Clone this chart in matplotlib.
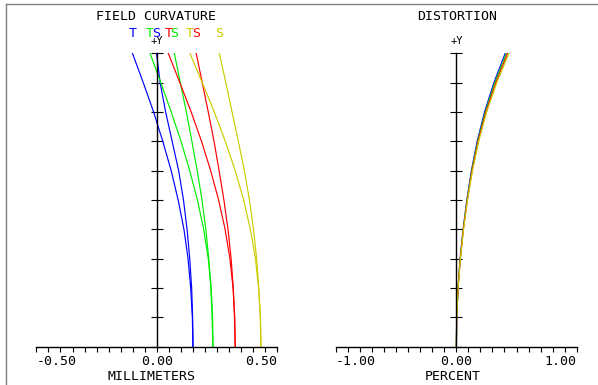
import numpy as np
import matplotlib
matplotlib.use("Agg")
import matplotlib.pyplot as plt
from matplotlib.lines import Line2D

# relative field height (0 = axis, 1 = full +Y field)
field = [0.0, 0.1, 0.2, 0.3, 0.4, 0.5, 0.6, 0.7, 0.8, 0.9, 1.0]

# field curvature in mm, tangential (T) and sagittal (S) per wavelength
blue_t = [0.150, 0.148, 0.141, 0.130, 0.113, 0.089, 0.060, 0.025, -0.013, -0.056, -0.101]
blue_s = [0.151, 0.149, 0.145, 0.137, 0.126, 0.111, 0.091, 0.064, 0.037, 0.014, -0.001]
green_t = [0.234, 0.232, 0.226, 0.214, 0.195, 0.169, 0.137, 0.101, 0.060, 0.017, -0.028]
green_s = [0.233, 0.230, 0.225, 0.216, 0.204, 0.188, 0.168, 0.146, 0.123, 0.098, 0.073]
red_t = [0.326, 0.324, 0.317, 0.304, 0.284, 0.257, 0.224, 0.186, 0.143, 0.096, 0.048]
red_s = [0.326, 0.323, 0.318, 0.309, 0.296, 0.279, 0.259, 0.238, 0.214, 0.189, 0.164]
yellow_t = [0.433, 0.431, 0.423, 0.410, 0.389, 0.361, 0.326, 0.285, 0.239, 0.189, 0.138]
yellow_s = [0.433, 0.430, 0.424, 0.415, 0.402, 0.385, 0.364, 0.339, 0.313, 0.287, 0.260]

# distortion in percent per wavelength
dist_blue = [0.0, 0.003, 0.014, 0.031, 0.056, 0.087, 0.125, 0.173, 0.234, 0.312, 0.406]
dist_green = [0.0, 0.003, 0.014, 0.032, 0.057, 0.089, 0.128, 0.177, 0.240, 0.320, 0.416]
dist_red = [0.0, 0.003, 0.014, 0.033, 0.058, 0.091, 0.131, 0.181, 0.246, 0.328, 0.426]
dist_yellow = [0.0, 0.003, 0.015, 0.034, 0.060, 0.093, 0.134, 0.186, 0.252, 0.336, 0.437]

colors = ["#0000ff", "#00ee00", "#ff0000", "#cccc00"]
curv = [(blue_t, blue_s), (green_t, green_s), (red_t, red_s), (yellow_t, yellow_s)]
dist = [dist_blue, dist_green, dist_red, dist_yellow]

W, H = 598, 385
plt.rcParams["font.family"] = "DejaVu Sans Mono"

fig = plt.figure(figsize=(W / 100, H / 100), dpi=100)


def fx(x):
    return x / W


def fy(y):
    return 1 - y / H


def axes_box(x0, x1, y0=53.3, y1=346.7):
    return [fx(x0), fy(y1), fx(x1) - fx(x0), fy(y0) - fy(y1)]


def setup(ax, lim, step, labels):
    ax.set_xlim(-lim, lim)
    ax.set_ylim(0, 1)
    ax.patch.set_visible(False)
    for s in ["top", "right"]:
        ax.spines[s].set_visible(False)
    ax.spines["left"].set_position(("data", 0))
    ax.spines["left"].set_linewidth(1.0)
    ax.spines["bottom"].set_linewidth(1.0)
    ax.set_yticks(np.arange(0, 1.001, 0.1))
    ax.set_yticklabels([])
    ax.tick_params(axis="y", direction="inout", length=9, width=0.8)
    ax.set_xticks(np.arange(-lim, lim + step / 2, step))
    ax.set_xticklabels([])
    ax.tick_params(axis="x", direction="out", length=3.5, width=0.8)
    for x, txt, ha in zip([-lim, 0, lim], labels, ["left", "center", "right"]):
        ax.annotate(txt, xy=(x, 0), xycoords=("data", "axes fraction"),
                    xytext=(0, -15), textcoords="offset pixels",
                    ha=ha, va="center", fontsize=9.5)
    ax.annotate("+Y", xy=(0, 1), xycoords=("data", "axes fraction"),
                xytext=(0, 12), textcoords="offset pixels",
                ha="center", va="center", fontsize=7.5)


# field curvature
ax1 = fig.add_axes(axes_box(36.4, 277.1))
setup(ax1, 0.5, 0.05, ["-0.50", "0.00", "0.50"])
for c, (t, s) in zip(colors, curv):
    ax1.plot(t, field, color=c, lw=0.85)
    ax1.plot(s, field, color=c, lw=0.85)
    for vals, letter in [(t, "T"), (s, "S")]:
        ax1.annotate(letter, xy=(vals[-1], 1), xycoords=("data", "axes fraction"),
                     xytext=(0, 20), textcoords="offset pixels",
                     ha="center", va="center", fontsize=9.5, color=c)

# distortion
ax2 = fig.add_axes(axes_box(336.0, 576.7))
setup(ax2, 1.0, 0.1, ["-1.00", "0.00", "1.00"])
for c, d in zip(colors, dist):
    ax2.plot(d, field, color=c, lw=0.85)

fig.text(fx(156), fy(16), "FIELD CURVATURE", ha="center", va="center", fontsize=9.5)
fig.text(fx(457), fy(16), "DISTORTION", ha="center", va="center", fontsize=9.5)
fig.text(fx(152), fy(376), "MILLIMETERS", ha="center", va="center", fontsize=9.5)
fig.text(fx(452.5), fy(376), "PERCENT", ha="center", va="center", fontsize=9.5)

# outer frame
fig.add_artist(Line2D([fx(6), fx(6)], [0, fy(4)], transform=fig.transFigure,
                      color="#808080", lw=1.0))
fig.add_artist(Line2D([fx(6), 1], [fy(4), fy(4)], transform=fig.transFigure,
                      color="#808080", lw=1.0))

fig.savefig("out.png", dpi=100)
